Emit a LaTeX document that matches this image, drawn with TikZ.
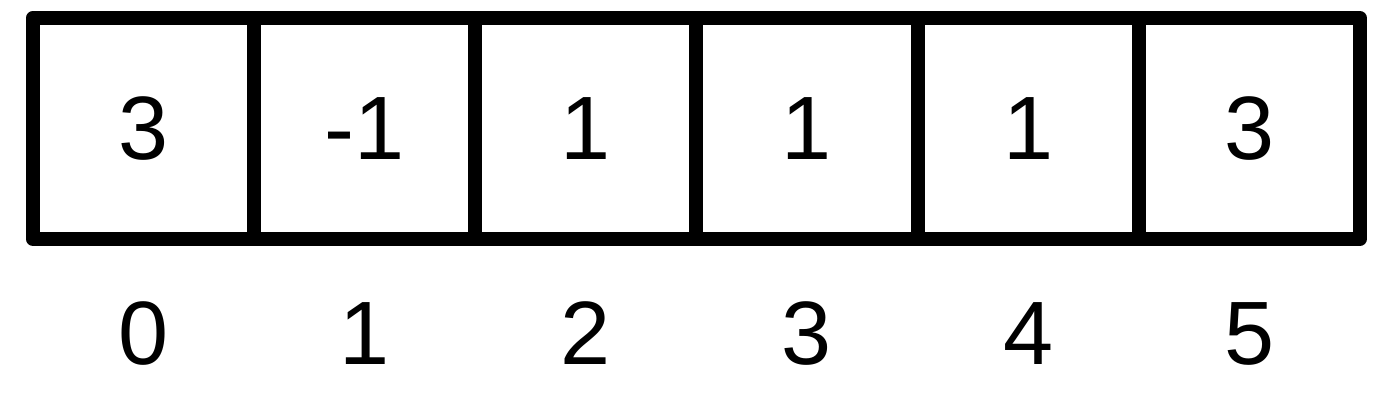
\documentclass[tikz,border=0pt]{standalone}
\usepackage{fontspec}
\setmainfont{Liberation Sans}
\usetikzlibrary{positioning}

\begin{document}
\begin{tikzpicture}[x=0.5pt,y=-0.5pt,
                    every node/.style={font=\fontsize{45}{54}\selectfont},
                    cell/.style={rectangle,draw,line width=7pt,line join=round,
                                 minimum width=110.58pt,minimum height=110.5pt,
                                 inner sep=0pt,outer sep=0pt},
                    idx/.style={inner sep=0pt}]
\useasboundingbox (0,0) rectangle (1383,401);

% array cells
\node[cell] (c0) at (143.5,128.5) {3};
\node[cell,right=0pt of c0] (c1) {-1};
\node[cell,right=0pt of c1] (c2) {1};
\node[cell,right=0pt of c2] (c3) {1};
\node[cell,right=0pt of c3] (c4) {1};
\node[cell,right=0pt of c4] (c5) {3};

% indices
\foreach \i in {0,...,5}
  \node[idx] (n\i) at ([yshift=-102.5pt]c\i.center) {\i};

\end{tikzpicture}
\end{document}
